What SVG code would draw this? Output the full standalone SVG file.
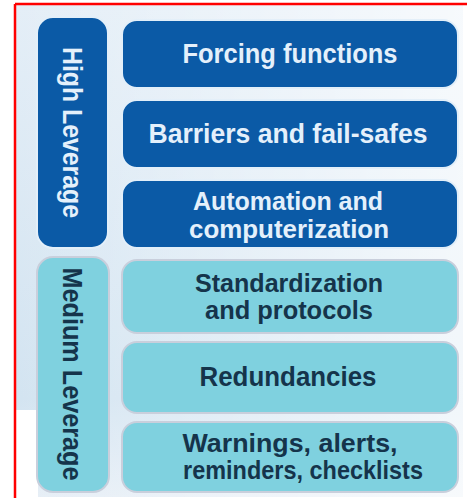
<svg xmlns="http://www.w3.org/2000/svg" width="467" height="498" viewBox="0 0 467 498">
<defs>
<linearGradient id="bg" x1="0" y1="0" x2="0" y2="1">
<stop offset="0" stop-color="#e4eef7"/>
<stop offset="0.8" stop-color="#d3e4f1"/>
<stop offset="1" stop-color="#e6eef6"/>
</linearGradient>
<linearGradient id="bgr" x1="0" y1="0" x2="1" y2="0">
<stop offset="0" stop-color="#ffffff" stop-opacity="0"/>
<stop offset="1" stop-color="#ffffff" stop-opacity="0.7"/>
</linearGradient>
</defs>
<style>
.hi{fill:#0b5aa6;stroke:#e3eff9;stroke-width:2}
.md{fill:#7fd1df;stroke:#c9cfdc;stroke-width:2}
.t{font-family:"Liberation Sans",Arial,sans-serif;font-weight:bold;font-size:27px;text-anchor:middle}
.t2{font-size:25px}
.th{fill:#e4f0fb}
.tm{fill:#15344b}
</style>
<rect x="0" y="0" width="467" height="498" fill="#ffffff"/>
<rect x="16" y="5" width="447" height="492" fill="url(#bg)"/>
<rect x="16" y="5" width="447" height="492" fill="url(#bgr)"/>
<rect x="16" y="410" width="22" height="87" fill="#ffffff"/>
<line x1="15" y1="4" x2="467" y2="4" stroke="#ff0000" stroke-width="2.5"/>
<line x1="15" y1="4" x2="15" y2="498" stroke="#ff0000" stroke-width="2.5"/>

<g id="high-leverage">
<rect class="hi" x="37" y="17" width="71" height="231" rx="16"/>
<text class="t th" transform="translate(63,132.5) rotate(90)" textLength="171" lengthAdjust="spacingAndGlyphs" font-size="25">High Leverage</text>
</g>
<g id="medium-leverage">
<rect class="md" x="37" y="257" width="72" height="235" rx="16"/>
<text class="t tm" transform="translate(63,374) rotate(90)" textLength="213" lengthAdjust="spacingAndGlyphs" font-size="25">Medium Leverage</text>
</g>

<g id="forcing-functions">
<rect class="hi" x="122" y="20" width="336" height="68" rx="15"/>
<text class="t th" x="290" y="63" textLength="215" lengthAdjust="spacingAndGlyphs">Forcing functions</text>
</g>
<g id="barriers">
<rect class="hi" x="122" y="100" width="336" height="68" rx="15"/>
<text class="t th" x="288" y="143" textLength="279" lengthAdjust="spacingAndGlyphs">Barriers and fail-safes</text>
</g>
<g id="automation">
<rect class="hi" x="122" y="180" width="336" height="68" rx="15"/>
<text class="t t2 th" x="288" y="210" textLength="190" lengthAdjust="spacingAndGlyphs">Automation and</text>
<text class="t t2 th" x="289" y="238" textLength="200" lengthAdjust="spacingAndGlyphs">computerization</text>
</g>
<g id="standardization">
<rect class="md" x="122" y="260" width="336" height="73" rx="15"/>
<text class="t t2 tm" x="289" y="292" textLength="188" lengthAdjust="spacingAndGlyphs">Standardization</text>
<text class="t t2 tm" x="289" y="319" textLength="168" lengthAdjust="spacingAndGlyphs">and protocols</text>
</g>
<g id="redundancies">
<rect class="md" x="122" y="342" width="336" height="71" rx="15"/>
<text class="t tm" x="288" y="386" textLength="177" lengthAdjust="spacingAndGlyphs">Redundancies</text>
</g>
<g id="warnings">
<rect class="md" x="122" y="422" width="336" height="70" rx="15"/>
<text class="t t2 tm" x="290" y="452" textLength="215" lengthAdjust="spacingAndGlyphs">Warnings, alerts,</text>
<text class="t t2 tm" x="303" y="479" textLength="240" lengthAdjust="spacingAndGlyphs">reminders, checklists</text>
</g>
<g id="connectors"></g>
</svg>
